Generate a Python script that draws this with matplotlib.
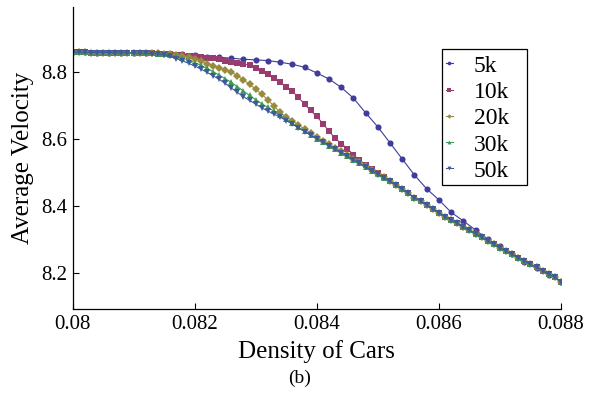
import matplotlib
matplotlib.use("Agg")
import matplotlib.pyplot as plt
import numpy as np
from matplotlib.patches import Rectangle

# ---------------- data ----------------
density_fine = [0.08 + 0.0001 * j for j in range(81)]     # 10k, 20k, 30k, 50k
density_coarse = [0.08 + 0.0002 * i for i in range(41)]   # 5k

v5k = [8.860, 8.860, 8.859, 8.859, 8.858, 8.858, 8.857, 8.857, 8.856, 8.854,
       8.851, 8.847, 8.845, 8.842, 8.839, 8.837, 8.835, 8.830, 8.824, 8.815,
       8.798, 8.780, 8.755, 8.723, 8.679, 8.637, 8.589, 8.541, 8.493, 8.452,
       8.419, 8.382, 8.356, 8.329, 8.301, 8.281, 8.256, 8.234, 8.214, 8.195,
       8.174]

v10k = [8.860, 8.860, 8.860, 8.859, 8.859, 8.859, 8.859, 8.858, 8.858, 8.858,
        8.858, 8.857, 8.857, 8.857, 8.856, 8.855, 8.854, 8.853, 8.852, 8.850,
        8.848, 8.846, 8.844, 8.842, 8.839, 8.835, 8.831, 8.828, 8.825, 8.821,
        8.814, 8.805, 8.795, 8.784, 8.770, 8.757, 8.743, 8.725, 8.705, 8.686,
        8.668, 8.647, 8.624, 8.603, 8.587, 8.572, 8.554, 8.537, 8.523, 8.511,
        8.498, 8.486, 8.474, 8.462, 8.450, 8.438, 8.426, 8.415, 8.403, 8.392,
        8.381, 8.369, 8.359, 8.349, 8.338, 8.328, 8.318, 8.307, 8.297, 8.286,
        8.276, 8.265, 8.256, 8.246, 8.236, 8.226, 8.217, 8.207, 8.197, 8.188,
        8.175]

v20k = [8.860, 8.860, 8.860, 8.859, 8.859, 8.859, 8.859, 8.858, 8.858, 8.858,
        8.858, 8.857, 8.857, 8.857, 8.857, 8.856, 8.855, 8.853, 8.850, 8.845,
        8.840, 8.835, 8.826, 8.820, 8.814, 8.808, 8.801, 8.790, 8.777, 8.764,
        8.750, 8.734, 8.717, 8.699, 8.680, 8.667, 8.655, 8.643, 8.630, 8.619,
        8.607, 8.596, 8.585, 8.575, 8.564, 8.553, 8.542, 8.531, 8.520, 8.508,
        8.497, 8.486, 8.474, 8.462, 8.450, 8.438, 8.426, 8.415, 8.403, 8.392,
        8.381, 8.369, 8.359, 8.349, 8.338, 8.328, 8.318, 8.307, 8.297, 8.286,
        8.276, 8.265, 8.256, 8.246, 8.236, 8.226, 8.217, 8.207, 8.197, 8.188,
        8.175]

v30k = [8.860, 8.860, 8.860, 8.859, 8.859, 8.859, 8.859, 8.858, 8.858, 8.858,
        8.858, 8.857, 8.857, 8.857, 8.856, 8.855, 8.852, 8.848, 8.843, 8.836,
        8.829, 8.821, 8.812, 8.802, 8.792, 8.781, 8.770, 8.757, 8.744, 8.731,
        8.718, 8.706, 8.695, 8.684, 8.672, 8.660, 8.648, 8.636, 8.624, 8.613,
        8.602, 8.592, 8.581, 8.571, 8.560, 8.549, 8.538, 8.528, 8.517, 8.506,
        8.496, 8.485, 8.474, 8.462, 8.450, 8.438, 8.426, 8.415, 8.403, 8.392,
        8.381, 8.369, 8.359, 8.349, 8.338, 8.328, 8.318, 8.307, 8.297, 8.286,
        8.276, 8.265, 8.256, 8.246, 8.236, 8.226, 8.217, 8.207, 8.197, 8.188,
        8.175]

v50k = [8.860, 8.860, 8.860, 8.859, 8.859, 8.859, 8.859, 8.858, 8.858, 8.858,
        8.858, 8.857, 8.857, 8.856, 8.855, 8.853, 8.848, 8.841, 8.834, 8.827,
        8.819, 8.810, 8.800, 8.790, 8.779, 8.767, 8.753, 8.740, 8.727, 8.716,
        8.705, 8.694, 8.684, 8.675, 8.666, 8.656, 8.645, 8.634, 8.623, 8.612,
        8.602, 8.592, 8.581, 8.571, 8.560, 8.549, 8.538, 8.528, 8.517, 8.506,
        8.496, 8.485, 8.474, 8.462, 8.450, 8.438, 8.426, 8.415, 8.403, 8.392,
        8.381, 8.369, 8.359, 8.349, 8.338, 8.328, 8.318, 8.307, 8.297, 8.286,
        8.276, 8.265, 8.256, 8.246, 8.236, 8.226, 8.217, 8.207, 8.197, 8.188,
        8.175]

labels = ["5k", "10k", "20k", "30k", "50k"]
x_ticks = [0.08, 0.082, 0.084, 0.086, 0.088]
x_ticklabels = ["0.08", "0.082", "0.084", "0.086", "0.088"]
y_ticks = [8.2, 8.4, 8.6, 8.8]
y_ticklabels = ["8.2", "8.4", "8.6", "8.8"]

# ---------------- style ----------------
plt.rcParams['font.family'] = ['Liberation Serif', 'DejaVu Serif']

colors = [(0.2472, 0.24, 0.6), (0.6, 0.24, 0.4429), (0.6, 0.547, 0.24),
          (0.24, 0.6, 0.337), (0.24, 0.353, 0.6)]
markers = ['o', 's', 'D', '^', 'v']
msizes = [4.4, 4.0, 3.8, 4.6, 4.6]

fig = plt.figure(figsize=(5.91, 4.11), dpi=100)
ax = fig.add_axes([72.5 / 591, 1 - 309 / 411, (561 - 72.5) / 591, (309 - 7) / 411])

series_x = [density_coarse, density_fine, density_fine, density_fine, density_fine]
series_y = [v5k, v10k, v20k, v30k, v50k]
handles = []
for xs, ys, c, m, ms, lab in zip(series_x, series_y, colors, markers, msizes, labels):
    h, = ax.plot(xs, ys, color=c, lw=0.8, marker=m, markersize=ms,
                 markeredgewidth=0, label=lab)
    handles.append(h)

ax.set_xlim(0.08, 0.088)
ax.set_ylim(8.093, 8.995)
ax.set_xticks(x_ticks)
ax.set_xticklabels(x_ticklabels)
ax.set_yticks(y_ticks)
ax.set_yticklabels(y_ticklabels)
ax.tick_params(direction='in', length=4, width=0.8, labelsize=15, pad=4)
for s in ['top', 'right']:
    ax.spines[s].set_visible(False)
for s in ['left', 'bottom']:
    ax.spines[s].set_linewidth(0.9)

ax.set_xlabel("Density of Cars", fontsize=18, labelpad=5)
ax.set_ylabel("Average Velocity", fontsize=18, labelpad=5)

leg = ax.legend(handles=handles, loc='center left',
                bbox_to_anchor=(442 / 591, 1 - 118.5 / 411),
                bbox_transform=fig.transFigure, frameon=False,
                fontsize=17, handlelength=0.3, handletextpad=0.9,
                labelspacing=0.2, borderpad=0.15, borderaxespad=0,
                markerscale=0.6)
fig.patches.append(Rectangle((441.7 / 591, 1 - 185 / 411),
                             (526.7 - 441.7) / 591, (185 - 49.3) / 411,
                             transform=fig.transFigure, fill=False,
                             edgecolor='black', linewidth=0.9))

fig.text(300 / 591, 1 - 378 / 411, "(b)", fontsize=14, ha='center', va='center')

fig.savefig("out.png", dpi=100)
